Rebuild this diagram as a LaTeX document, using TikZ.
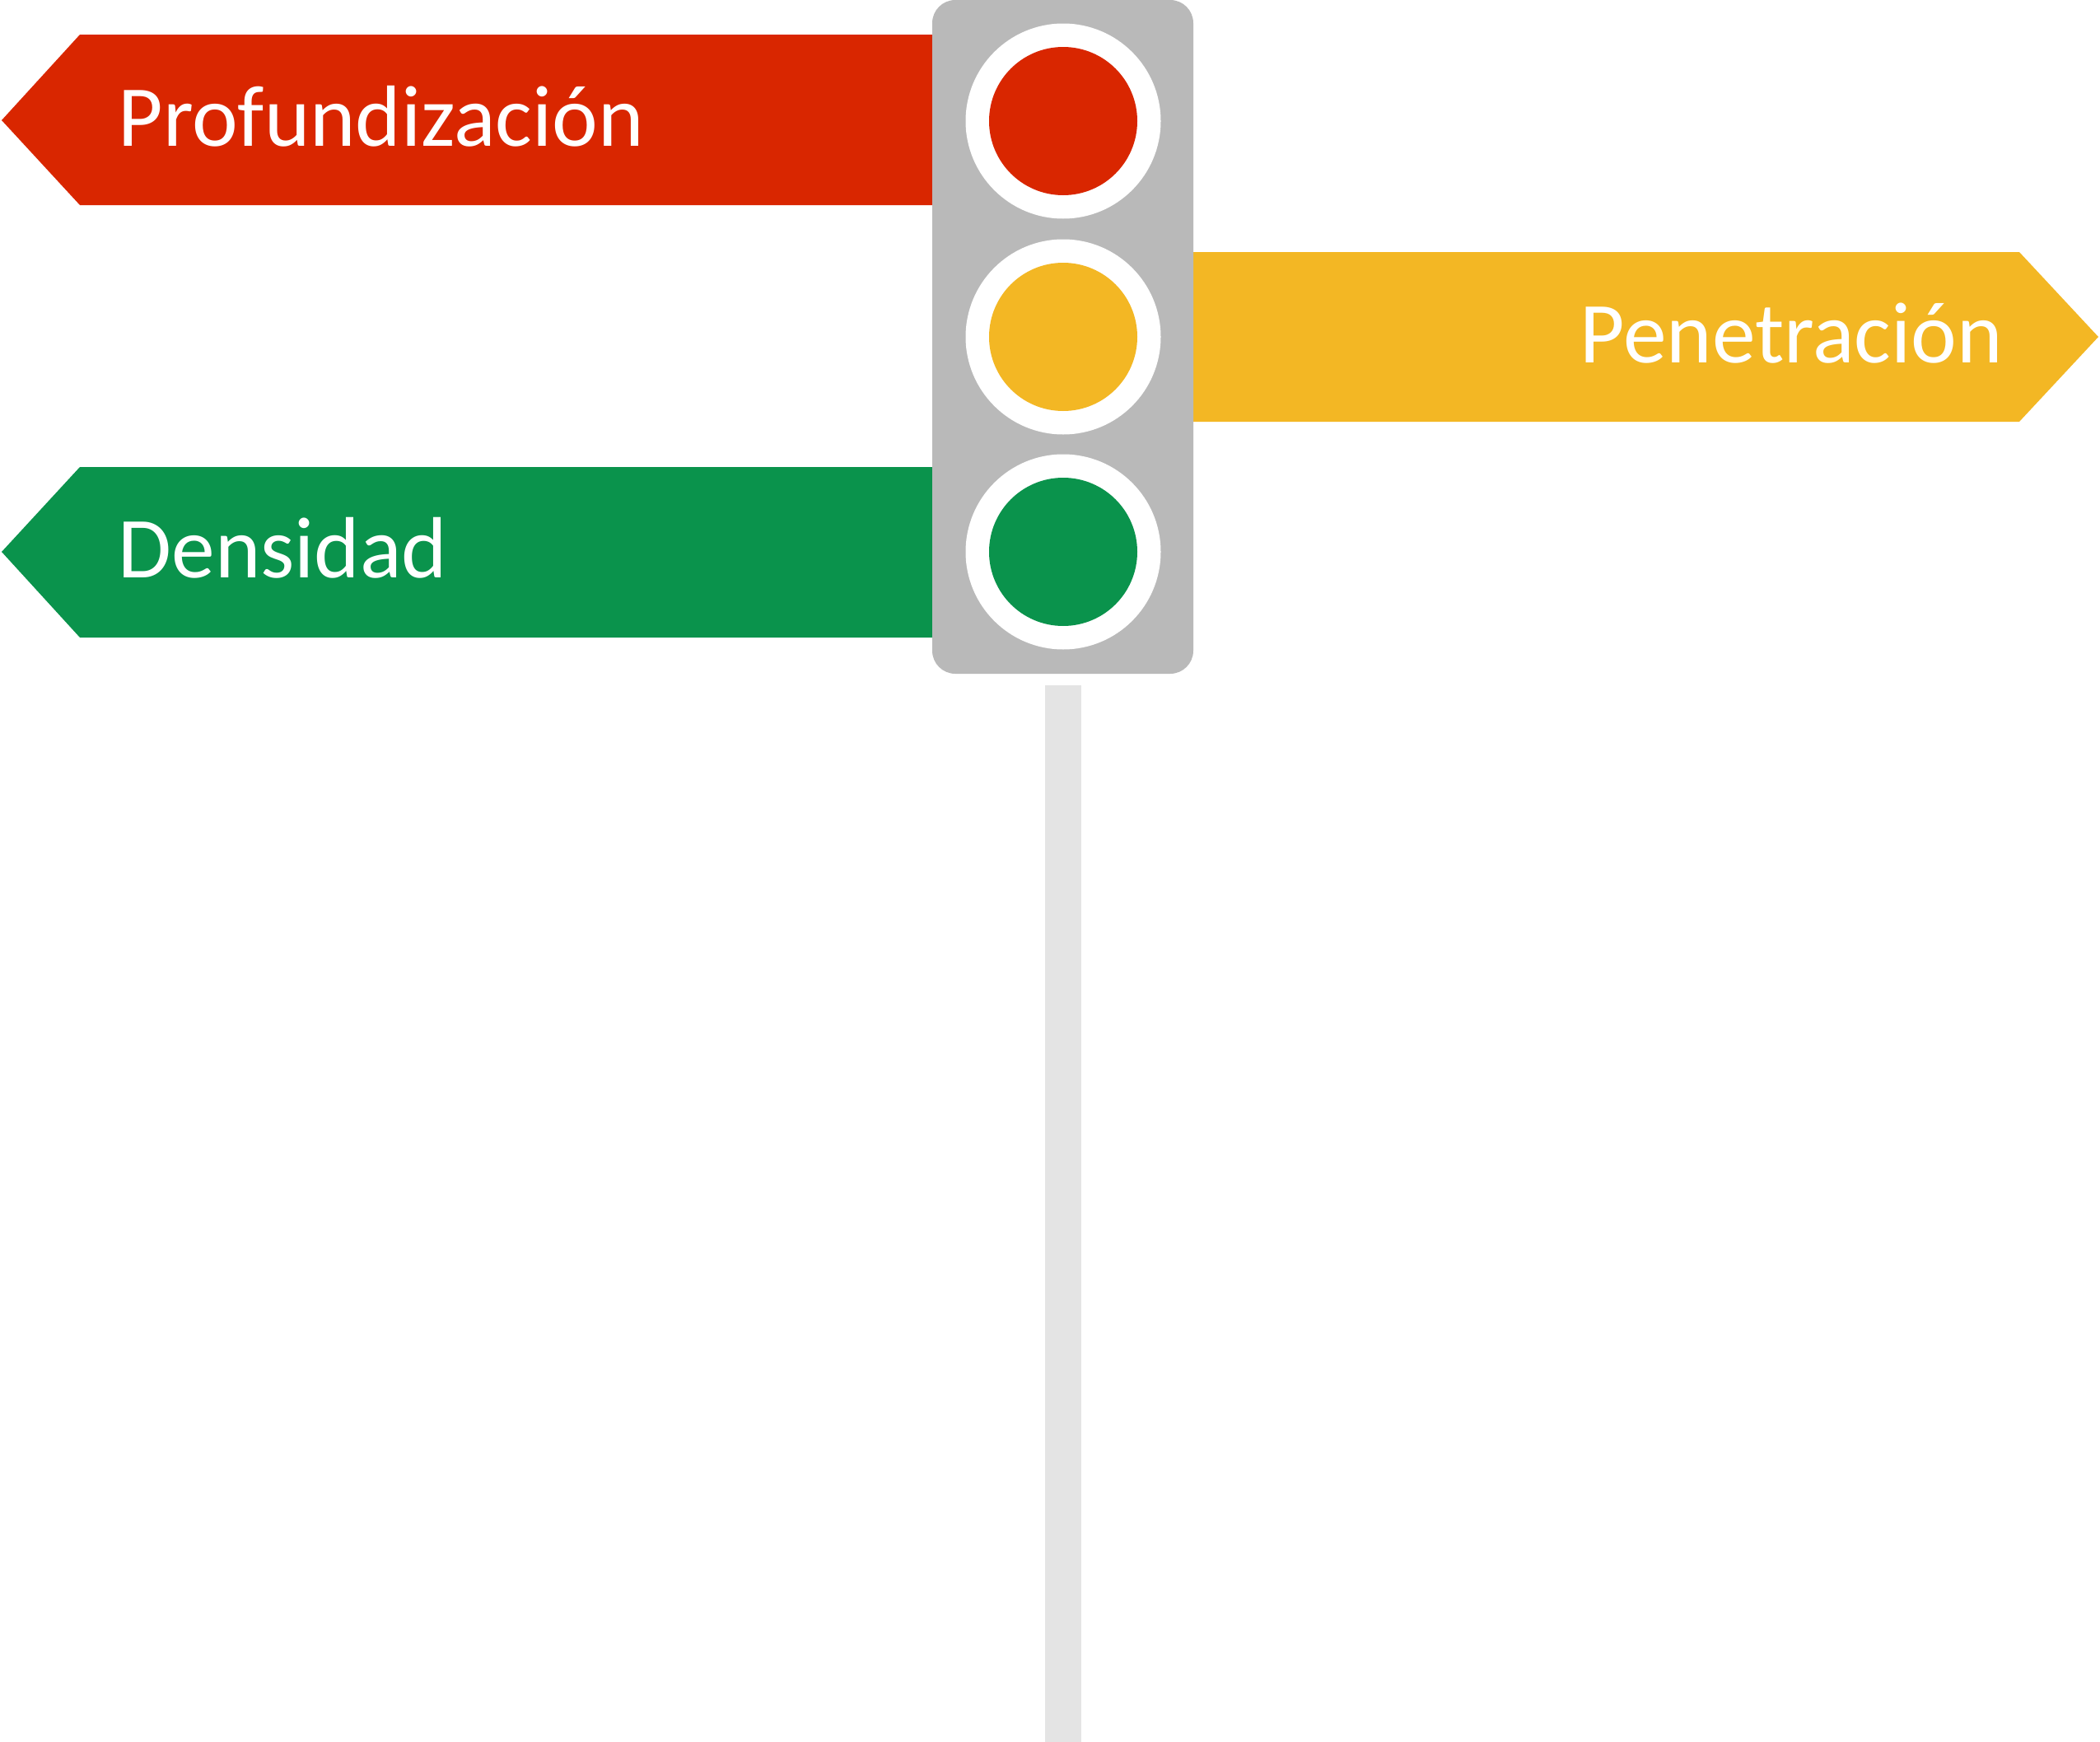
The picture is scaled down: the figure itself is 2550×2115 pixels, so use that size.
\documentclass[tikz,border=0pt]{standalone}
\usepackage{fontspec}
\setmainfont{Carlito}
\usepackage{xcolor}
\definecolor{signRed}{RGB}{217, 38, 0}
\definecolor{signYellow}{RGB}{243, 183, 36}
\definecolor{signGreen}{RGB}{10, 147, 76}
\definecolor{housingGray}{RGB}{185, 185, 185}
\definecolor{poleGray}{RGB}{228, 228, 228}
\tikzset{
    sign/.style={draw=none},
    signText/.style={text=white, inner sep=0pt, font=\fontsize{30}{36}\selectfont},
    ring/.style={fill=white, draw=none},
    lamp/.style={draw=none}
}

\begin{document}
\begin{tikzpicture}[x=0.01cm, y=-0.01cm]

    \useasboundingbox (0,0) rectangle (2550,2115);

    % --- POLE ---
    \fill[poleGray] (1269,832) rectangle (1313,2115);

    % --- SIGNS ---
    \fill[sign, signRed] (2,146) -- (97,42) -- (1140,42) -- (1140,249) -- (97,249) -- cycle;
    \fill[sign, signGreen] (2,670) -- (97,567) -- (1140,567) -- (1140,774) -- (97,774) -- cycle;
    \fill[sign, signYellow] (1440,306) -- (2452,306) -- (2548,409) -- (2452,512) -- (1440,512) -- cycle;

    \node[signText, anchor=base west] (profText) at (143,177) {Profundización};
    \node[signText, anchor=base east] (penText) at (2432,440) {Penetración};
    \node[signText, anchor=base west] (densText) at (143,701) {Densidad};

    % --- HOUSING ---
    \fill[housingGray, rounded corners=0.28cm] (1132,0) rectangle (1449,818);

    % --- LIGHTS ---
    \fill[ring] (1291,147) circle[radius=118.5];
    \fill[lamp, signRed] (1291,147) circle[radius=90];
    \fill[ring] (1291,409) circle[radius=118.5];
    \fill[lamp, signYellow] (1291,409) circle[radius=90];
    \fill[ring] (1291,670) circle[radius=118.5];
    \fill[lamp, signGreen] (1291,670) circle[radius=90];

\end{tikzpicture}
\end{document}
